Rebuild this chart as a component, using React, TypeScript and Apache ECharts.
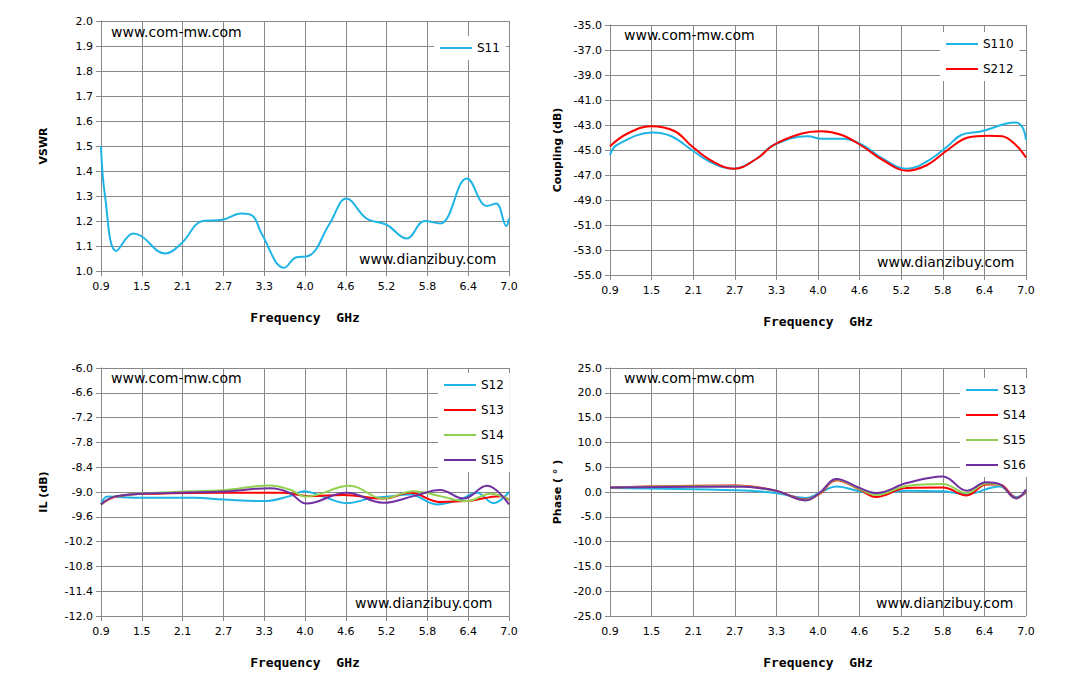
import { useRef, useEffect } from 'react';
import * as echarts from 'echarts';

const xLabels = ['0.9', '1.5', '2.1', '2.7', '3.3', '4.0', '4.6', '5.2', '5.8', '6.4', '7.0'];

// [GHz, value]
const s11: number[][] = [
  [0.9, 1.5], [0.96, 1.3], [1.13, 1.08], [1.38, 1.15], [1.5, 1.14], [1.86, 1.07], [2.1, 1.11],
  [2.42, 1.2], [2.71, 1.205], [3.0, 1.23], [3.17, 1.22], [3.3, 1.15], [3.64, 1.013], [3.82, 1.055],
  [4.0, 1.06], [4.32, 1.19], [4.57, 1.29], [4.87, 1.21], [5.17, 1.185], [5.47, 1.13], [5.74, 1.2],
  [5.97, 1.19], [6.37, 1.37], [6.67, 1.26], [6.81, 1.27], [6.96, 1.18], [7.0, 1.21],
];

const s110: number[][] = [
  [0.9, -45.4], [1.0, -44.6], [1.53, -43.6], [1.8, -43.9], [2.1, -45.0], [2.35, -45.9], [2.7, -46.5],
  [3.05, -45.7], [3.3, -44.6], [3.8, -43.9], [4.0, -44.1], [4.3, -44.1], [4.6, -44.6], [4.9, -45.7],
  [5.25, -46.5], [5.55, -45.9], [5.85, -44.7], [6.05, -43.8], [6.35, -43.5], [6.7, -42.9], [6.85, -42.8],
  [6.95, -43.2], [7.0, -44.2],
];
const s212: number[][] = [
  [0.9, -44.7], [1.15, -43.7], [1.5, -43.1], [1.85, -43.5], [2.1, -44.7], [2.4, -45.9], [2.72, -46.5],
  [3.05, -45.7], [3.3, -44.6], [3.7, -43.7], [4.0, -43.5], [4.3, -43.8], [4.6, -44.7], [4.9, -45.8],
  [5.25, -46.65], [5.55, -46.2], [5.85, -45.0], [6.15, -44.0], [6.45, -43.85], [6.65, -43.9],
  [6.85, -44.6], [7.0, -45.6],
];

const il12: number[][] = [
  [0.9, -9.3], [1.0, -9.11], [1.5, -9.14], [2.3, -9.14], [2.73, -9.18], [3.33, -9.22], [3.72, -9.1],
  [3.93, -8.98], [4.22, -9.11], [4.57, -9.27], [4.92, -9.16], [5.2, -9.11], [5.52, -9.06], [5.92, -9.3],
  [6.27, -9.18], [6.52, -9.02], [6.77, -9.27], [7.0, -9.0],
];
const il13: number[][] = [
  [0.9, -9.3], [1.13, -9.11], [1.73, -9.04], [2.73, -9.02], [3.62, -9.02], [4.02, -9.1], [4.52, -9.07],
  [5.12, -9.16], [5.52, -9.02], [5.97, -9.24], [6.37, -9.22], [6.87, -9.1], [7.0, -9.19],
];
const il14: number[][] = [
  [0.9, -9.3], [1.13, -9.1], [2.0, -9.0], [2.73, -8.96], [3.43, -8.84], [3.72, -8.94], [3.97, -9.11],
  [4.62, -8.85], [5.12, -9.16], [5.57, -8.98], [5.97, -9.1], [6.37, -9.22], [6.72, -9.04], [7.0, -9.18],
];
const il15: number[][] = [
  [0.9, -9.3], [1.13, -9.1], [2.0, -9.02], [2.73, -8.99], [3.43, -8.91], [3.72, -9.02], [3.97, -9.28],
  [4.57, -9.02], [5.12, -9.26], [5.57, -9.1], [5.97, -8.95], [6.32, -9.16], [6.67, -8.85], [7.0, -9.3],
];

const ph13: number[][] = [
  [0.9, 0.8], [2.75, 0.34], [3.33, -0.2], [3.77, -1.2], [3.97, -0.2], [4.22, 1.1], [4.56, 0.13],
  [4.8, -0.4], [5.25, 0.27], [5.78, 0.13], [6.13, -0.4], [6.61, 1.1], [6.86, -1.0], [7.0, -0.2],
];
const ph14: number[][] = [
  [0.9, 0.9], [2.75, 1.3], [3.33, 0.27], [3.77, -1.5], [3.97, -0.4], [4.22, 2.35], [4.56, 0.47],
  [4.8, -1.0], [5.25, 0.8], [5.78, 0.9], [6.13, -0.7], [6.42, 1.5], [6.61, 1.5], [6.86, -1.2], [7.0, 0.1],
];
const ph15: number[][] = [
  [0.9, 0.9], [2.75, 1.2], [3.33, 0.2], [3.77, -1.6], [3.97, -0.3], [4.22, 2.5], [4.56, 0.6],
  [4.8, -0.6], [5.25, 1.2], [5.78, 1.6], [6.13, -0.2], [6.42, 1.7], [6.61, 1.4], [6.86, -1.25], [7.0, 0.3],
];
const ph16: number[][] = [
  [0.9, 0.9], [2.75, 1.1], [3.33, 0.27], [3.77, -1.7], [3.97, -0.2], [4.22, 2.6], [4.56, 0.8],
  [4.8, -0.2], [5.25, 1.8], [5.78, 3.15], [6.13, 0.27], [6.42, 1.95], [6.61, 1.6], [6.86, -1.3], [7.0, 0.5],
];

const BLUE = '#1fb4e6';
const RED = '#ff0000';
const GREEN = '#92d050';
const PURPLE = '#7030a0';
const FONT = 'DejaVu Sans';

// map GHz onto tick steps (0..10) so ticks sit at the labelled positions
const toStep = (d: number[][]) => d.map(([f, v]) => [(f - 0.9) / 0.61, v]);

const grids = [
  { left: 101, top: 21, width: 408, height: 250 },
  { left: 610, top: 25, width: 416, height: 250 },
  { left: 101, top: 368, width: 408, height: 248 },
  { left: 610, top: 368, width: 416, height: 248 },
];
const yCfg = [
  { min: 1.0, max: 2.0, interval: 0.1, name: 'VSWR' },
  { min: -55, max: -35, interval: 2, name: 'Coupling (dB)' },
  { min: -12, max: -6, interval: 0.6, name: 'IL (dB)' },
  { min: -25, max: 25, interval: 5, name: 'Phase ( ° )' },
];

export default function App() {
  const divRef = useRef<HTMLDivElement | null>(null);

  useEffect(() => {
    document.body.style.margin = '0';
    if (!divRef.current) return;
    const chart = echarts.init(divRef.current, null, { renderer: 'svg' });
    const gridLine = { show: true, lineStyle: { color: '#888', width: 1 } };
    const axisLine = { lineStyle: { color: '#888' } };
    const xAxis = grids.map((_, i) => ({
      type: 'value', gridIndex: i, min: 0, max: 10, interval: 1,
      axisLine, axisTick: { show: true, lineStyle: { color: '#888' } }, splitLine: gridLine,
      axisLabel: { color: '#000', fontFamily: FONT, fontSize: 11, margin: 10, formatter: (v: number) => xLabels[Math.round(v)] },
      name: 'Frequency  GHz', nameLocation: 'middle', nameGap: 40,
      nameTextStyle: { fontFamily: 'DejaVu Sans Mono', fontWeight: 'bold', fontSize: 13, color: '#000' },
    }));
    const yAxis = yCfg.map((c, i) => ({
      type: 'value', gridIndex: i, min: c.min, max: c.max, interval: c.interval,
      axisLine: { show: true, lineStyle: { color: '#888' } }, axisTick: { show: true, lineStyle: { color: '#888' } }, splitLine: gridLine,
      axisLabel: { color: '#000', fontFamily: FONT, fontSize: 11, formatter: (v: number) => v.toFixed(1) },
      name: c.name, nameLocation: 'middle', nameGap: i % 2 === 0 ? 52 : 47,
      nameTextStyle: { fontFamily: FONT, fontWeight: 'bold', fontSize: 11, color: '#000' },
    }));
    const line = (name: string, data: number[][], color: string, idx: number) => ({
      name, type: 'line', xAxisIndex: idx, yAxisIndex: idx, data: toStep(data),
      smooth: 0.4, showSymbol: false, lineStyle: { color, width: 2 }, itemStyle: { color },
    });
    const legend = (names: string[], left: number, top: number) => ({
      data: names, orient: 'vertical', left, top, itemGap: 13, itemWidth: 32, itemHeight: 2,
      icon: 'rect', backgroundColor: '#fff', padding: [6, 6, 6, 6],
      textStyle: { fontFamily: FONT, fontSize: 12, color: '#000' },
    });
    const wm = (x: number, y: number, text: string) => ({
      type: 'text', left: x, top: y, z: 10,
      style: { text, fontFamily: FONT, fontSize: 14, fill: '#000' },
    });
    chart.setOption({
      animation: false,
      grid: grids,
      xAxis,
      yAxis,
      legend: [
        legend(['S11'], 434, 36),
        legend(['S110', 'S212'], 940, 32),
        legend(['S12', 'S13', 'S14', 'S15'], 438, 373),
        legend(['S13 ', 'S14 ', 'S15 ', 'S16'], 960, 378),
      ],
      graphic: [
        wm(111, 25, 'www.com-mw.com'),
        wm(359, 252, 'www.dianzibuy.com'),
        wm(624, 28, 'www.com-mw.com'),
        wm(877, 255, 'www.dianzibuy.com'),
        wm(111, 371, 'www.com-mw.com'),
        wm(355, 596, 'www.dianzibuy.com'),
        wm(624, 371, 'www.com-mw.com'),
        wm(876, 596, 'www.dianzibuy.com'),
      ],
      series: [
        line('S11', s11, BLUE, 0),
        line('S110', s110, BLUE, 1),
        line('S212', s212, RED, 1),
        line('S12', il12, BLUE, 2),
        line('S13', il13, RED, 2),
        line('S14', il14, GREEN, 2),
        line('S15', il15, PURPLE, 2),
        line('S13 ', ph13, BLUE, 3),
        line('S14 ', ph14, RED, 3),
        line('S15 ', ph15, GREEN, 3),
        line('S16', ph16, PURPLE, 3),
      ],
    });
    return () => {
      chart.dispose();
    };
  }, []);
  return <div ref={divRef} style={{ width: '1071px', height: '698px', background: '#fff' }}></div>;
}
